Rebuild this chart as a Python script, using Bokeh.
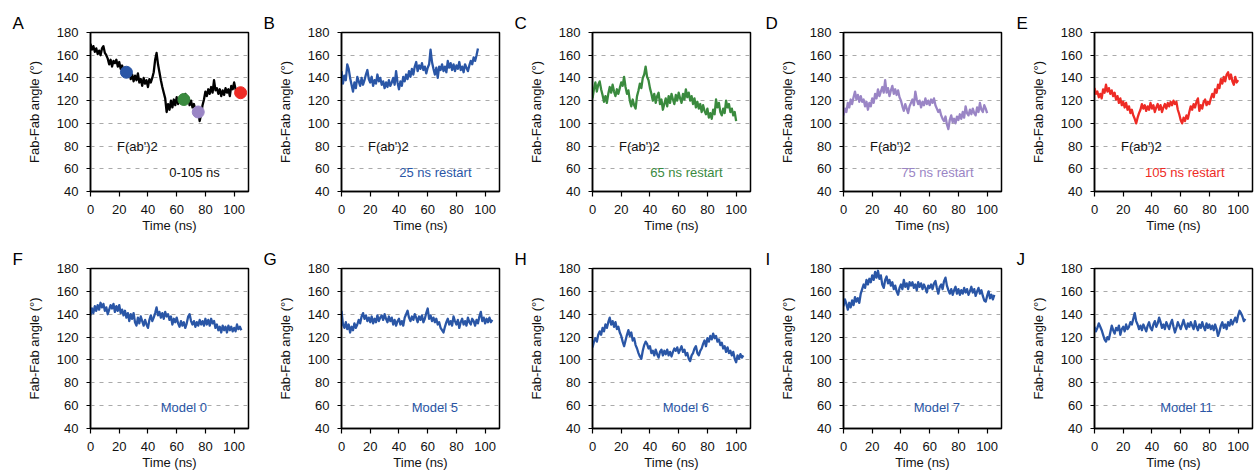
from bokeh.plotting import figure
from bokeh.layouts import row, column
from bokeh.models import Range1d, Label, FixedTicker
from bokeh.embed import file_html
from bokeh.resources import INLINE

FONT = "Liberation Sans"

# ---------------- data ----------------
time_A = list(range(0, 106))
angle_A = [170,165,168,163,166,161,164,160,166,168,162,160,157,152,156,150,155,153,156,150,
           154,148,151,146,149,145,141,146,139,143,137,142,138,144,136,139,133,140,135,138,
           132,139,136,140,145,156,162,152,145,138,132,127,122,110,117,112,120,114,121,116,
           123,117,122,118,125,121,126,119,123,116,120,114,117,112,109,110,102,108,116,121,
           128,124,130,126,132,127,138,129,131,126,130,124,129,125,131,127,130,124,133,130,
           136,130,128,124,130,126]

time_B = list(range(0, 96))
angle_B = [146,135,142,138,152,148,140,134,128,136,131,141,137,133,140,134,138,143,147,139,
           136,141,133,138,135,143,137,140,134,137,131,136,132,138,133,136,140,134,146,136,
           130,137,133,141,137,143,139,146,141,148,143,150,154,146,151,148,153,147,150,144,
           149,152,165,154,148,143,149,140,150,147,152,146,150,145,155,149,153,147,152,146,
           151,148,154,147,150,145,152,149,146,151,155,152,158,155,160,166]

time_C = list(range(0, 101))
angle_C = [122,130,136,128,134,137,130,125,119,124,118,126,132,127,134,128,124,130,126,131,
           136,133,141,132,126,129,120,115,121,116,113,124,129,135,131,140,143,150,141,138,
           131,126,120,126,118,124,127,117,121,112,117,122,115,124,118,126,121,117,125,120,
           127,122,118,126,121,130,123,127,120,124,117,122,114,119,113,117,110,116,111,108,
           113,105,109,104,112,108,121,114,118,110,107,113,109,120,114,117,110,113,107,110,
           102]

time_D = list(range(0, 101))
angle_D = [107,113,110,118,114,121,117,123,128,121,125,119,124,119,121,115,119,112,118,115,
           122,118,126,122,130,124,128,132,127,138,127,131,124,129,133,126,130,125,129,123,
           120,115,111,117,113,109,115,118,121,116,128,121,117,120,114,119,116,122,117,120,
           116,121,118,122,116,113,110,112,107,104,102,106,99,95,103,107,101,104,100,106,
           103,108,104,110,105,115,109,107,112,108,113,109,107,114,110,118,112,110,116,113,
           109]

time_E = list(range(0, 101))
angle_E = [131,126,128,123,126,122,130,127,134,128,131,126,129,124,127,121,124,118,122,116,
           119,114,118,112,115,109,112,107,104,100,105,109,112,117,113,116,111,115,112,118,
           113,116,110,114,117,112,116,110,114,117,113,118,115,119,116,120,117,119,112,108,
           103,100,105,102,107,104,110,115,112,117,114,119,122,111,116,113,119,121,116,119,
           117,122,126,123,130,127,134,131,139,135,141,137,143,145,139,143,137,134,141,136,
           138]

time_F = list(range(0, 106))
angle_F = [139,145,141,147,143,148,144,150,146,149,143,146,140,144,148,145,149,142,147,143,
           148,141,144,139,143,137,141,134,140,136,141,133,130,137,132,138,134,130,135,131,
           128,135,139,134,137,141,146,139,142,137,141,136,142,138,140,135,138,131,136,133,
           137,132,129,134,130,133,128,132,138,140,134,131,134,129,133,130,135,131,134,130,
           136,131,135,130,136,132,134,128,131,126,129,124,130,126,129,124,130,126,129,125,
           128,125,131,127,129,126]

time_G = list(range(0, 106))
angle_G = [143,131,128,133,127,131,124,129,126,132,128,131,135,132,138,141,136,139,134,137,
           133,138,132,136,133,139,134,137,139,135,140,136,133,138,134,137,131,135,130,134,
           136,131,134,130,137,140,143,137,134,138,135,140,137,133,138,135,139,133,136,141,
           145,136,139,134,137,133,136,131,133,128,126,124,129,133,136,131,134,130,138,134,
           131,135,128,133,136,131,134,130,137,133,131,136,134,130,135,132,138,142,134,137,
           132,136,133,137,133,135]

time_H = list(range(0, 106))
angle_H = [111,116,119,116,122,125,122,128,125,131,128,133,137,131,134,129,133,127,129,124,
           121,116,112,117,122,126,121,124,117,119,113,110,106,103,101,108,113,116,114,110,
           112,106,108,104,109,105,102,107,109,104,108,105,109,104,107,103,107,110,108,111,
           106,109,112,107,109,104,106,101,99,104,106,110,112,106,104,108,110,114,117,112,
           119,116,121,118,123,119,121,116,118,113,115,110,112,107,111,106,108,104,107,101,
           98,104,101,105,102,104]

time_I = list(range(0, 106))
angle_I = [147,153,149,144,150,146,152,148,155,151,154,150,158,162,166,163,170,166,171,168,
           174,170,177,172,178,171,174,166,163,170,173,167,170,165,168,162,165,160,157,163,
           166,162,170,164,167,162,168,165,168,163,166,161,168,164,167,162,166,163,159,165,
           163,166,162,167,169,163,158,164,166,162,169,172,165,161,158,162,157,161,164,158,
           162,157,161,158,163,159,162,157,160,164,159,162,156,160,163,158,161,156,152,151,
           156,160,154,157,153,157]

time_J = list(range(0, 106))
angle_J = [129,125,128,132,129,126,122,118,116,120,118,124,130,126,123,128,126,130,122,127,
           129,125,131,127,129,133,131,136,141,134,131,127,130,126,131,128,125,130,133,128,
           126,131,134,129,132,137,133,128,131,127,133,130,127,132,135,129,124,128,133,130,
           127,131,135,130,127,132,129,133,130,127,134,129,126,131,128,133,129,126,132,128,
           131,127,130,126,131,127,121,125,130,133,128,131,127,133,130,135,131,134,137,133,
           139,143,141,138,134,136]

restart_times = [25, 65, 75, 104.5]
restart_angles = [145, 121, 110, 127]

y_ticks = [40, 60, 80, 100, 120, 140, 160, 180]
x_ticks = [0, 20, 40, 60, 80, 100]

BLUE = "#2a56a6"
GREEN = "#3a8a3e"
PURPLE = "#9a85c5"
RED = "#ee2b25"
BLACK = "#000000"


def make_panel(letter, t, y, color, width, height, top_row, right_border=3,
               texts=(), dots=None):
    bottom_border = 45 if top_row else 46
    p = figure(width=width, height=height, output_backend="svg", toolbar_location=None,
               x_range=Range1d(0, 110), y_range=Range1d(40, 180),
               min_border_left=90, min_border_right=right_border,
               min_border_top=32, min_border_bottom=bottom_border)
    p.background_fill_color = "white"
    p.border_fill_color = "white"
    p.outline_line_color = "black"
    p.outline_line_width = 1.5
    p.xgrid.visible = False
    p.ygrid.ticker = FixedTicker(ticks=y_ticks)
    p.ygrid.grid_line_color = "#aaaaaa"
    p.ygrid.grid_line_dash = "4 5"
    p.ygrid.grid_line_width = 1

    p.title.text = letter
    p.title.align = "left"
    p.title.offset = -78
    p.title.standoff = 0
    p.title.text_font = FONT
    p.title.text_font_size = "17px"
    p.title.text_font_style = "normal"
    p.title.text_color = "black"

    p.xaxis.ticker = FixedTicker(ticks=x_ticks)
    p.yaxis.ticker = FixedTicker(ticks=y_ticks)
    for ax in (p.xaxis[0], p.yaxis[0]):
        ax.axis_line_color = "black"
        ax.axis_line_width = 1.5
        ax.major_tick_line_color = "black"
        ax.major_tick_line_width = 1.2
        ax.major_tick_in = 0
        ax.minor_tick_line_color = None
        ax.major_label_text_font = FONT
        ax.major_label_text_font_size = "13px"
        ax.major_label_text_color = "#111111"
        ax.axis_label_text_font = FONT
        ax.axis_label_text_font_size = "13px"
        ax.axis_label_text_font_style = "normal"
        ax.axis_label_text_color = "#111111"
    p.xaxis.major_tick_out = 5
    p.yaxis.major_tick_out = 4
    p.xaxis.major_label_standoff = 8
    p.yaxis.major_label_standoff = 8
    p.xaxis.axis_label = "Time (ns)"
    p.yaxis.axis_label = "Fab-Fab angle (°)"
    p.xaxis.axis_label_standoff = 1
    p.yaxis.axis_label_standoff = 12

    p.line(t, y, line_color=color, line_width=2.3, line_join="round")

    if dots is not None:
        for dx, dy, dc in dots:
            p.scatter([dx], [dy], size=12, fill_color=dc, line_color=dc)

    for (tx, ty, txt, tc, align) in texts:
        p.add_layout(Label(x=tx, y=ty, text=txt, text_color=tc, text_font=FONT,
                           text_font_size="13px", text_align=align, text_baseline="middle"))
    return p


W = 251
W_LAST = 254
H_TOP = 236
H_BOT = 238

dots_A = [(restart_times[0], restart_angles[0], BLUE),
          (restart_times[1], restart_angles[1], GREEN),
          (restart_times[2], restart_angles[2], PURPLE),
          (restart_times[3], restart_angles[3], RED)]

pA = make_panel("A", time_A, angle_A, BLACK, W, H_TOP, True,
                texts=[(18.5, 80, "F(ab')2", "#111111", "left"), (90, 57, "0-105 ns", "#111111", "right")],
                dots=dots_A)
pB = make_panel("B", time_B, angle_B, BLUE, W, H_TOP, True,
                texts=[(18.5, 80, "F(ab')2", "#111111", "left"), (90.5, 57, "25 ns restart", BLUE, "right")])
pC = make_panel("C", time_C, angle_C, GREEN, W, H_TOP, True,
                texts=[(18.5, 80, "F(ab')2", "#111111", "left"), (90.5, 57, "65 ns restart", GREEN, "right")])
pD = make_panel("D", time_D, angle_D, PURPLE, W, H_TOP, True,
                texts=[(18.5, 80, "F(ab')2", "#111111", "left"), (90.5, 57, "75 ns restart", PURPLE, "right")])
pE = make_panel("E", time_E, angle_E, RED, W_LAST, H_TOP, True, right_border=6,
                texts=[(18.5, 80, "F(ab')2", "#111111", "left"), (90.5, 57, "105 ns restart", RED, "right")])

pF = make_panel("F", time_F, angle_F, BLUE, W, H_BOT, False,
                texts=[(65, 58, "Model 0", BLUE, "center")])
pG = make_panel("G", time_G, angle_G, BLUE, W, H_BOT, False,
                texts=[(65, 58, "Model 5", BLUE, "center")])
pH = make_panel("H", time_H, angle_H, BLUE, W, H_BOT, False,
                texts=[(65, 58, "Model 6", BLUE, "center")])
pI = make_panel("I", time_I, angle_I, BLUE, W, H_BOT, False,
                texts=[(65, 58, "Model 7", BLUE, "center")])
pJ = make_panel("J", time_J, angle_J, BLUE, W_LAST, H_BOT, False, right_border=6,
                texts=[(64, 58, "Model 11", BLUE, "center")])

layout = column(row(pA, pB, pC, pD, pE, spacing=0), row(pF, pG, pH, pI, pJ, spacing=0), spacing=0)

open("out.html", "w").write(file_html(layout, INLINE))
